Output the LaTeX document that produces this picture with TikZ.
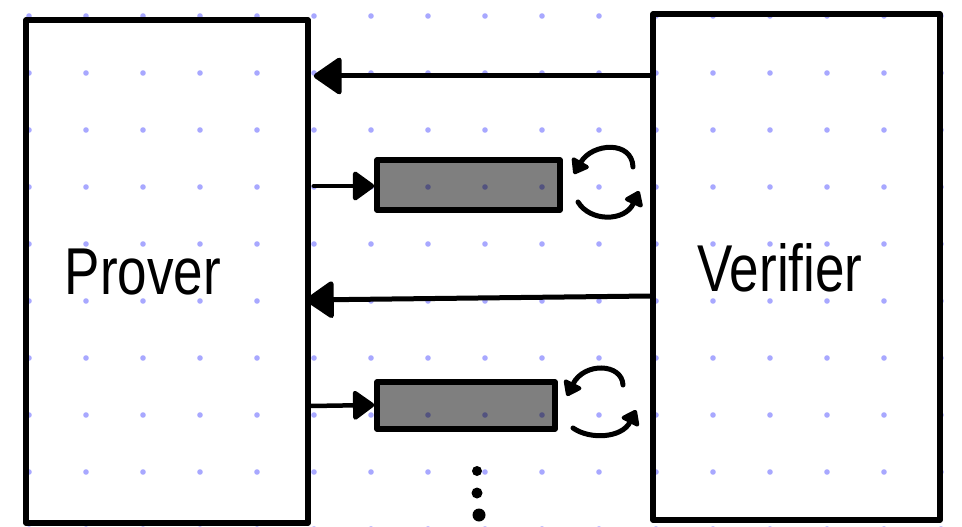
\documentclass[tikz,border=0pt]{standalone}
\usepackage{fontspec}
\setmainfont{Liberation Sans}
\usetikzlibrary{arrows.meta}
\definecolor{gridc}{RGB}{168,168,255}
\begin{document}
\begin{tikzpicture}[x=1pt,y=-1pt,
  stroke/.style={line width=5.5pt, line join=round, line cap=round},
  party/.style={stroke, draw, inner sep=0pt},
  tape/.style={stroke, draw, fill=black, fill opacity=0.5, inner sep=0pt},
  msg/.style={line width=5pt, line cap=round, -{Triangle[length=30pt,width=40pt,round]}},
  feed/.style={line width=4.5pt, line cap=round, -{Triangle[length=23pt,width=32pt,round]}},
  spin/.style={line width=5pt, line cap=round, -{Triangle[length=16pt,width=22pt,round]}},
  lbl/.style={font=\fontsize{53}{60}\selectfont, inner sep=0pt}]
\useasboundingbox (0,0) rectangle (962,527);
\fill[white] (0,0) rectangle (962,527);
% dot grid
\foreach \i in {0,...,16}{\foreach \j in {0,...,9}{
  \fill[gridc] ({29+57*\i},{16+57*\j}) circle (2.8);}}
% parties
\node[party, minimum width=282pt, minimum height=503pt] (prover) at (167,271.5) {};
\node[party, minimum width=287pt, minimum height=506pt] (verifier) at (796.5,267) {};
\node[lbl] (proverlabel) at (143,272) {\scalebox{1}[1.25]{Prover}};
\node[lbl] (verifierlabel) at (780,268) {\scalebox{1}[1.25]{Verifier}};
% tapes
\node[tape, minimum width=183pt, minimum height=50pt] (tape1) at (468.5,185) {};
\node[tape, minimum width=178pt, minimum height=47pt] (tape2) at (466,405.5) {};
% messages
\draw[msg] (verifier.west |- 0,76) -- ([xshift=3pt]prover.east |- 0,76);
\draw[msg] (verifier.west |- 0,296) -- ([xshift=-5pt]prover.east |- 0,300);
\draw[feed] ([xshift=3pt]prover.east |- 0,186) -- (tape1.west |- 0,186);
\draw[feed] (prover.east |- 0,406) -- (tape2.west |- 0,405);
% spinning arrows
\draw[spin] (633,167) .. controls (632,140) and (592,143) .. (574,174);
\draw[spin] (578,202) .. controls (590,222) and (625,222) .. (639,191);
\draw[spin] (623,385) .. controls (622,363) and (584,362) .. (567,396);
\draw[spin] (573,428) .. controls (590,440) and (622,438) .. (636,410);
% vertical ellipsis
\fill (477,471) circle (5);
\fill (477,493) circle (5.5);
\fill (479,515) circle (6.5);
\end{tikzpicture}
\end{document}
